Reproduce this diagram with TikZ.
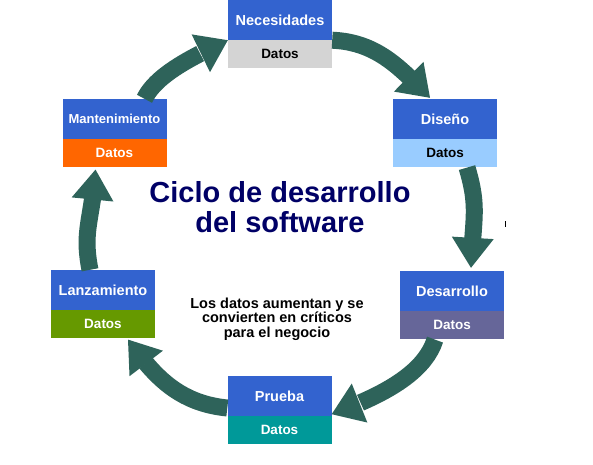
\documentclass[tikz,border=0pt]{standalone}
\usepackage{fontspec}
\setmainfont{Liberation Sans}
\usepackage{xcolor}
\usetikzlibrary{positioning,arrows.meta,bending}
\definecolor{azul}{RGB}{51,99,207}
\definecolor{flecha}{RGB}{46,99,90}
\definecolor{gris}{RGB}{212,212,212}
\definecolor{celeste}{RGB}{153,204,255}
\definecolor{violeta}{RGB}{102,102,153}
\definecolor{turquesa}{RGB}{0,153,153}
\definecolor{verde}{RGB}{102,153,0}
\definecolor{naranja}{RGB}{255,102,0}
\definecolor{marino}{RGB}{0,0,102}

\begin{document}
\begin{tikzpicture}[x=1pt,y=-1pt,
    etapa/.style={fill=azul,text=white,font=\fontsize{14.5}{16}\selectfont\bfseries,minimum width=104pt,minimum height=40pt,inner sep=0pt},
    datos/.style={text=white,font=\fontsize{13.5}{15}\selectfont\bfseries,minimum width=104pt,minimum height=28pt,inner sep=0pt},
    ciclo/.style={draw=flecha,line width=17pt,-{Triangle[width=42pt,length=30pt,line width=0pt,flex]}}]
    \useasboundingbox (0,0) rectangle (593,464);
    \node[etapa] (Nec) at (280,20) {Necesidades};
    \node[datos,fill=gris,text=black,below=0pt of Nec] (NecD) {Datos};
    \node[etapa] (Dis) at (445,119) {Diseño};
    \node[datos,fill=celeste,text=black,below=0pt of Dis] (DisD) {Datos};
    \node[etapa] (Des) at (452,291) {Desarrollo};
    \node[datos,fill=violeta,below=0pt of Des] (DesD) {Datos};
    \node[etapa] (Prb) at (279.5,396) {Prueba};
    \node[datos,fill=turquesa,below=0pt of Prb] (PrbD) {Datos};
    \node[etapa] (Lan) at (103,290) {Lanzamiento};
    \node[datos,fill=verde,below=0pt of Lan] (LanD) {Datos};
    \node[etapa,font=\fontsize{13}{15}\selectfont\bfseries] (Man) at (114.5,119) {Mantenimiento};
    \node[datos,fill=naranja,below=0pt of Man] (ManD) {Datos};
    \node[text=marino,font=\fontsize{29}{30}\selectfont\bfseries,align=center] (Titulo) at (280,207) {Ciclo de desarrollo\\del software};
    \node[font=\fontsize{14.5}{14.5}\selectfont\bfseries,align=center] (Nota) at (277,319) {Los datos aumentan y se\\convierten en críticos\\para el negocio};
    \draw[ciclo] (Nec.south east) .. controls +(45,2) and +(-30,-30) .. ([xshift=-15pt,yshift=1pt]Dis.north);
    \draw[ciclo] ([xshift=22pt]DisD.south) .. controls +(12,40) and +(2,-50) .. ([xshift=19pt,yshift=3pt]Des.north);
    \draw[ciclo] ([xshift=-17pt]DesD.south) .. controls +(-12,38) and +(40,-15) .. ([yshift=2pt]Prb.south east);
    \draw[ciclo] ([yshift=-12pt]Prb.west) .. controls +(-50,-5) and +(25,35) .. ([xshift=25pt,yshift=-1pt]LanD.south);
    \draw[ciclo] ([xshift=-13pt]Lan.north) .. controls +(-8,-40) and +(-3,50) .. ([xshift=-19pt,yshift=-2pt]ManD.south);
    \draw[ciclo] ([xshift=30pt]Man.north) .. controls +(12,-25) and +(-32,15) .. (Nec.south west);
    \draw[line width=1pt] (505,221) -- (505,227);
\end{tikzpicture}
\end{document}
